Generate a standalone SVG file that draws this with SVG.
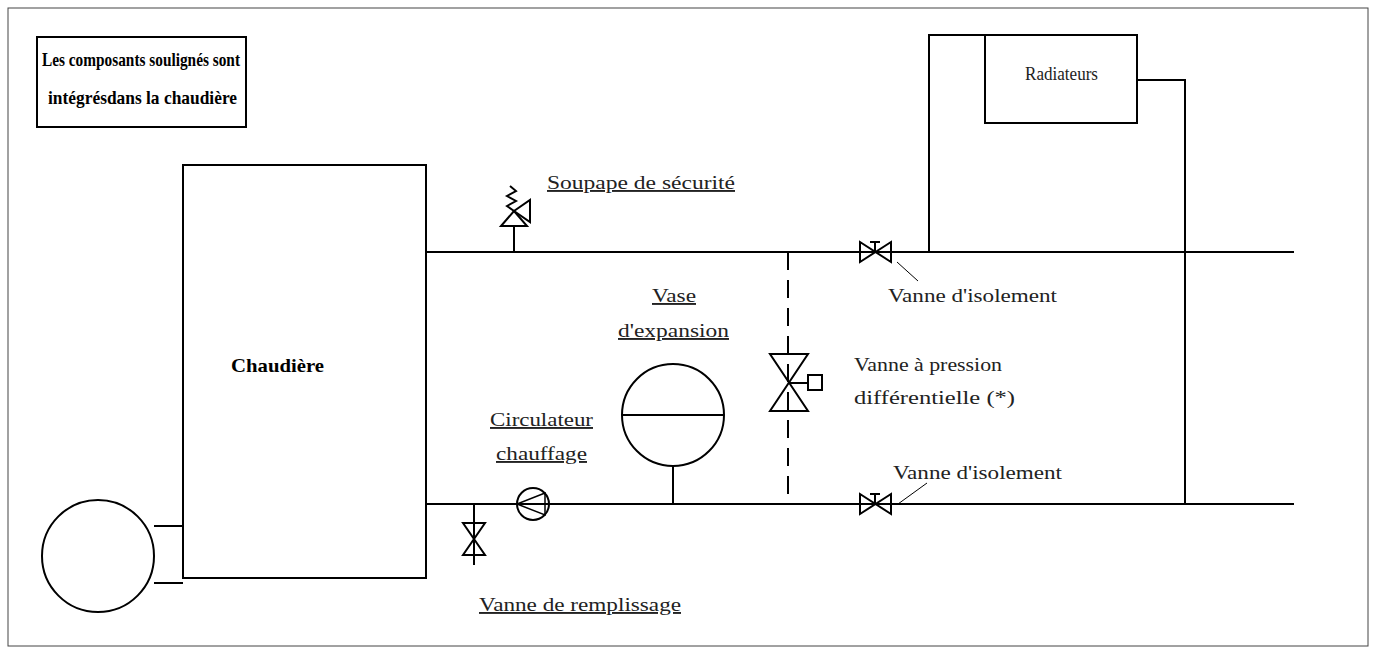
<svg xmlns="http://www.w3.org/2000/svg" width="1376" height="654" viewBox="0 0 1376 654">
<style>
.l{stroke:#000;stroke-width:2;fill:none}
.t{font-family:"Liberation Serif",serif;font-size:19px;fill:#222}
.u{text-decoration:underline}
.b{font-weight:bold;fill:#000;font-size:19px}
</style>
<rect width="1376" height="654" fill="#fff"/>
<rect x="8" y="8" width="1360" height="638" fill="none" stroke="#444" stroke-width="1"/>
<g id="title"><rect x="37" y="37" width="209" height="90" class="l"/>
<text class="t b" x="42" y="66" textLength="198" lengthAdjust="spacingAndGlyphs">Les composants soulignés sont</text>
<text class="t b" x="48" y="104" textLength="189" lengthAdjust="spacingAndGlyphs">intégrésdans la chaudière</text></g>
<g id="connectors" class="l">
<path d="M426 252H1294M426 504H1294"/>
<path d="M788 252V504" stroke-dasharray="18 10"/>
<path d="M929 252V35H985M1137 80H1185V504"/>
<path d="M154 526H183M154 583H183"/>
<path d="M514 252V226M673 466V504M474 504V565"/>
<path d="M897 262L918 281M898 504L927 483" stroke-width="1"/>
</g>
<g id="chaudiere"><rect x="183" y="165" width="243" height="413" class="l"/><text class="t b" x="231" y="372" textLength="93" lengthAdjust="spacingAndGlyphs">Chaudière</text></g>
<g id="circle"><circle cx="98" cy="556" r="56" class="l"/></g>
<g id="radiateurs"><rect x="985" y="35" width="152" height="88" class="l"/><text class="t" x="1025" y="80" textLength="73" lengthAdjust="spacingAndGlyphs" style="font-size:18px">Radiateurs</text></g>
<g id="soupape" class="l"><path d="M501 226H527L514 211Z"/><path d="M514 211L530 200V222Z"/><path d="M514 211L507 206L516 201L507 196L516 191L510 186"/></g>
<text class="t u" x="547" y="189" textLength="188" lengthAdjust="spacingAndGlyphs">Soupape de sécurité</text>
<g id="pump" class="l"><circle cx="533" cy="504" r="16"/><path d="M545 493L517 504L545 515Z" stroke-width="1.5"/></g>
<text class="t u" x="490" y="426" textLength="103" lengthAdjust="spacingAndGlyphs">Circulateur</text><text class="t u" x="496" y="460" textLength="91" lengthAdjust="spacingAndGlyphs">chauffage</text>
<g id="vase" class="l"><circle cx="673" cy="415" r="51"/><path d="M622 415H724"/></g>
<text class="t u" x="652" y="302" textLength="44" lengthAdjust="spacingAndGlyphs">Vase</text><text class="t u" x="618" y="337" textLength="111" lengthAdjust="spacingAndGlyphs">d'expansion</text>
<g id="remplissage" class="l"><path d="M463 523H485L463 555H485Z"/></g>
<text class="t u" x="479" y="611" textLength="202" lengthAdjust="spacingAndGlyphs">Vanne de remplissage</text>
<g id="diff" class="l"><path d="M770 354H808L770 411H808Z"/><path d="M789 383H808"/><rect x="808" y="375" width="14" height="15"/></g>
<text class="t" x="854" y="371" textLength="148" lengthAdjust="spacingAndGlyphs">Vanne à pression</text><text class="t" x="854" y="404" textLength="161" lengthAdjust="spacingAndGlyphs">différentielle (*)</text>
<g id="iso1" class="l"><path d="M860 242V262L891 242V262Z"/><path d="M875 252V242M870 242H880"/></g>
<text class="t" x="888" y="302" textLength="169" lengthAdjust="spacingAndGlyphs">Vanne d'isolement</text>
<g id="iso2" class="l"><path d="M860 494V514L891 494V514Z"/><path d="M875 504V494M870 494H880"/></g>
<text class="t" x="893" y="479" textLength="169" lengthAdjust="spacingAndGlyphs">Vanne d'isolement</text>
</svg>
